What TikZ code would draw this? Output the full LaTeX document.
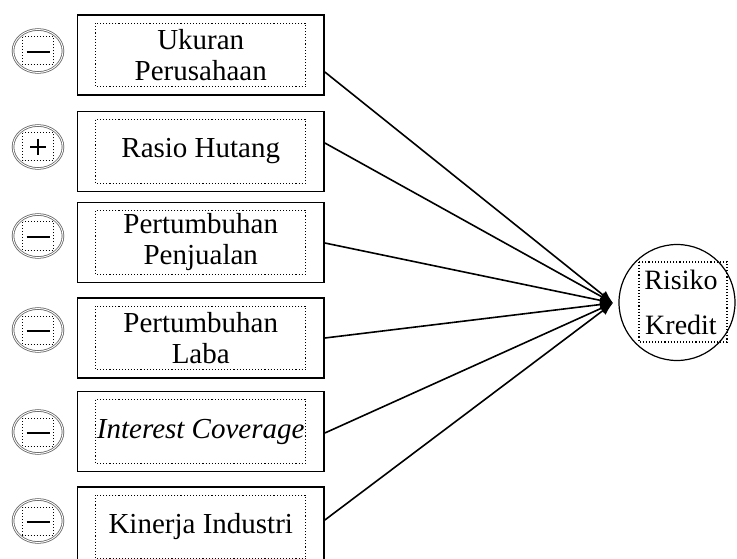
\documentclass[tikz,border=0pt]{standalone}
\usepackage{fontspec}
\setmainfont{Liberation Serif}
\usetikzlibrary{shapes.geometric,arrows.meta}
\begin{document}
\begin{tikzpicture}[x=1pt,y=-1pt,
  outerbox/.style={draw=black,line width=1.7pt,minimum width=246.5pt,minimum height=80pt,
    inner sep=0pt,align=center,font=\fontsize{29}{31}\selectfont},
  innerdot/.style={dotted,line width=1.1pt},
  signc/.style={ellipse,draw=gray!80!black,double=white,double distance=0.9pt,line width=0.8pt,
    minimum width=50pt,minimum height=43pt,inner sep=0pt},
  signline/.style={line width=1.6pt},
  conn/.style={line width=1.6pt,-{Latex[length=13pt,width=10pt]}},
  target/.style={circle,draw=black,line width=1.2pt,minimum size=116pt,inner sep=0pt,
    align=center,font=\fontsize{28}{45}\selectfont}]
\useasboundingbox (0,0) rectangle (737,559);
\fill[white] (0,0) rectangle (737,559);
\begin{scope}
\clip (0,0) rectangle (737,559);
% boxes
\node[outerbox] (b1) at (200.75,55) {Ukuran\\Perusahaan};
\node[outerbox] (b2) at (200.75,151.5) {Rasio Hutang};
\node[outerbox] (b3) at (200.75,242.5) {Pertumbuhan\\Penjualan};
\node[outerbox] (b4) at (200.75,338) {Pertumbuhan\\Laba};
\node[outerbox] (b5) at (200.75,431.5) {\itshape Interest Coverage};
\node[outerbox] (b6) at (200.75,527) {Kinerja Industri};
\foreach \b in {b1,b2,b3,b4,b5,b6}
  \draw[innerdot] ([xshift=19pt,yshift=-9pt]\b.north west) rectangle ([xshift=-19pt,yshift=9pt]\b.south east);
% sign circles
\foreach \s/\y in {s1/51,s2/147,s3/236,s4/330,s5/432,s6/521}{
  \node[signc] (\s) at (38,\y) {};
  \draw[innerdot,line width=1pt] ([xshift=-15.5pt,yshift=14pt]\s.center) rectangle ([xshift=15pt,yshift=-14pt]\s.center);
}
\foreach \s in {s1,s3,s4,s5,s6}
  \draw[signline] ([xshift=-11.5pt,yshift=-1pt]\s.center) -- ([xshift=11.5pt,yshift=-1pt]\s.center);
\draw[signline] ([xshift=-8pt]s2.center) -- ([xshift=8pt]s2.center);
\draw[signline] ([yshift=8pt]s2.center) -- ([yshift=-8pt]s2.center);
% target
\node[target] (rk) at (677,302.5) {};
\node[align=center,font=\fontsize{28}{45}\selectfont,inner sep=0pt] (rkt) at ([xshift=4pt]rk.center) {Risiko\\Kredit};
\draw[innerdot] ([xshift=-38pt,yshift=40.5pt]rk.center) rectangle ([xshift=50pt,yshift=-39.5pt]rk.center);
\coordinate (conv) at (613,303);
% connectors
\draw[conn] ([yshift=-17pt]b1.east) -- (conv);
\draw[conn] ([yshift=8.5pt]b2.east) -- (conv);
\draw[conn] ([yshift=-0.5pt]b3.east) -- (conv);
\draw[conn] (b4.east) -- (conv);
\draw[conn] ([yshift=-1.5pt]b5.east) -- (conv);
\draw[conn] ([yshift=7pt]b6.east) -- (conv);
\end{scope}
\end{tikzpicture}
\end{document}
